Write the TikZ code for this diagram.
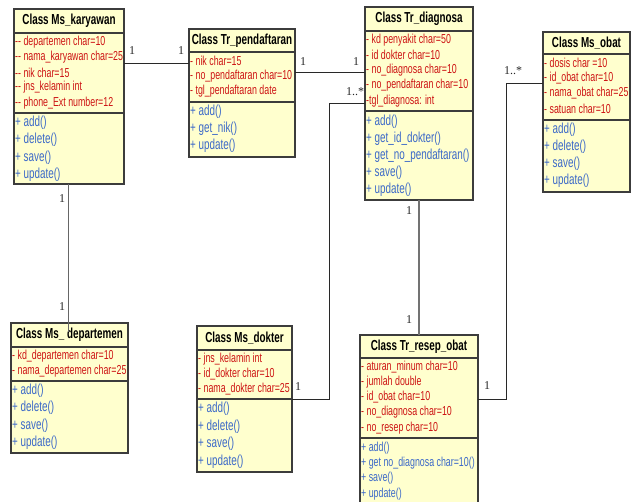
\documentclass[tikz,border=0pt]{standalone}
\usepackage{fontspec}
\newfontfamily\umlfont[FakeStretch=0.68]{Liberation Sans}
\newfontfamily\numfont{Liberation Serif}
\definecolor{boxfill}{RGB}{255,255,206}
\definecolor{boxline}{RGB}{60,60,60}
\definecolor{attrred}{RGB}{205,20,20}
\definecolor{methblue}{RGB}{60,105,200}
\definecolor{conline}{RGB}{40,40,40}
\tikzset{
  clsbox/.style={draw=boxline, fill=boxfill, line width=1.1pt, rectangle, inner sep=0pt, outer sep=0pt, anchor=north west},
  sepline/.style={draw=boxline, line width=1.1pt},
  ttl/.style={font=\umlfont\bfseries\fontsize{14.5}{16}\selectfont, inner sep=0pt, anchor=center},
  attr/.style={font=\umlfont\fontsize{13}{15}\selectfont, text=attrred, anchor=west, inner sep=0pt},
  meth/.style={font=\umlfont\fontsize{14.5}{16}\selectfont, text=methblue, anchor=west, inner sep=0pt},
  smallmeth/.style={meth, font=\umlfont\fontsize{13}{15}\selectfont},
  mult/.style={font=\numfont\fontsize{12}{14}\selectfont, inner sep=0pt, text=black!85},
  conn/.style={draw=conline, line width=0.9pt},
}
% #1 name #2 left #3 top #4 right #5 sep1 #6 sep2 #7 bottom #8 title #9 attrs
\newcommand\umlcls[9]{%
  \node[clsbox, minimum width={#4-#2}, minimum height={#7-#3}] (#1) at (#2,#3) {};
  \draw[sepline] (#1.west |- 0,#5) -- (#1.east |- 0,#5);
  \draw[sepline] (#1.west |- 0,#6) -- (#1.east |- 0,#6);
  \node[ttl] (#1-t) at ({(#2+#4)/2},{(#3+#5)/2}) {#8};
  \foreach \a [count=\i] in {#9} {\node[attr] (#1-a\i) at ({#2+1},{#5+9+15.2*(\i-1)}) {\a};}
}
% #1 name #2 left #3 first y #4 step #5 style #6 list
\newcommand\umlmeth[6]{%
  \foreach \m [count=\i] in {#6} {\node[#5] (#1-m\i) at ({#2+1},{#3+#4*(\i-1)}) {\m};}
}
\begin{document}
\begin{tikzpicture}[x=1pt,y=-1pt]
\useasboundingbox (0,0) rectangle (631,501);

\umlcls{kar}{14}{9}{124}{33}{113}{184}{Class Ms\_karyawan}
  {-{}- departemen char=10, -{}- nama\_karyawan char=25, -{}- nik char=15, -{}- jns\_kelamin int, -{}- phone\_Ext number=12}
\umlmeth{kar}{14}{123}{17.2}{meth}{+ add(), + delete(), + save(), + update()}

\umlcls{pen}{189}{29}{295}{52}{102}{157}{Class Tr\_pendaftaran}
  {- nik char=15, - no\_pendaftaran char=10, - tgl\_pendaftaran date}
\umlmeth{pen}{189}{112}{17}{meth}{+ add(), + get\_nik(), + update()}

\umlcls{dia}{365}{7}{473}{31}{111}{200}{Class Tr\_diagnosa}
  {- kd penyakit char=50, - id dokter char=10, - no\_diagnosa char=10, - no\_pendaftaran char=10, -tgl\_diagnosa: int}
\umlmeth{dia}{365}{122}{17}{meth}{+ add(), + get\_id\_dokter(), + get\_no\_pendaftaran(), + save(), + update()}

\umlcls{oba}{543}{32}{630}{54}{120}{192}{Class Ms\_obat}
  {- dosis char =10, - id\_obat char=10, - nama\_obat char=25, - satuan char=10}
\umlmeth{oba}{543}{130}{17}{meth}{+ add(), + delete(), + save(), + update()}

\umlcls{dep}{11}{323}{128}{347}{381}{453}{Class Ms\_ departemen}
  {- kd\_departemen char=10, - nama\_departemen char=25}
\umlmeth{dep}{11}{391}{17.2}{meth}{+ add(), + delete(), + save(), + update()}

\umlcls{dok}{197}{326}{292}{350}{399}{472}{Class Ms\_dokter}
  {- jns\_kelamin int, - id\_dokter char=10, - nama\_dokter char=25}
\umlmeth{dok}{197}{409}{17.6}{meth}{+ add(), + delete(), + save(), + update()}

\umlcls{res}{360}{335}{478}{358}{438}{506}{Class Tr\_resep\_obat}
  {- aturan\_minum char=10, - jumlah double, - id\_obat char=10, - no\_diagnosa char=10, - no\_resep char=10}
\umlmeth{res}{360}{448}{15.3}{smallmeth}{+ add(), + get no\_diagnosa char=10(), + save(), + update()}

% connectors
\draw[conn] (kar.east |- 0,63) -- (pen.west |- 0,63);
\draw[conn] (pen.east |- 0,72) -- (dia.west |- 0,72);
\coordinate (dk1) at (329,399);
\coordinate (dk2) at (329,103);
\draw[conn] (dok.east |- dk1) -- (dk1) -- (dk2) -- (dia.west |- dk2);
\draw[conn, draw=black!55, line width=1.1pt] (dia.south -| 419,0) -- (res.north -| 419,0);
\coordinate (ob1) at (506,399);
\coordinate (ob2) at (506,83);
\draw[conn] (res.east |- ob1) -- (ob1) -- (ob2) -- (oba.west |- ob2);
\draw[conn, draw=black!60] (kar.south -| 68,0) -- ([yshift=-9pt]dep.north -| 68,0);

% multiplicities
\node[mult] (m1) at (132,51) {1};
\node[mult] (m2) at (181,51) {1};
\node[mult] (m3) at (303,62) {1};
\node[mult] (m4) at (356,62) {1};
\node[mult] (m5) at (355,92) {1..*};
\node[mult] (m6) at (298,387) {1};
\node[mult] (m7) at (409,211) {1};
\node[mult] (m8) at (409,320) {1};
\node[mult] (m9) at (513,71) {1..*};
\node[mult] (m10) at (487,386) {1};
\node[mult] (m11) at (62,199) {1};
\node[mult] (m12) at (62,307) {1};
\end{tikzpicture}
\end{document}
